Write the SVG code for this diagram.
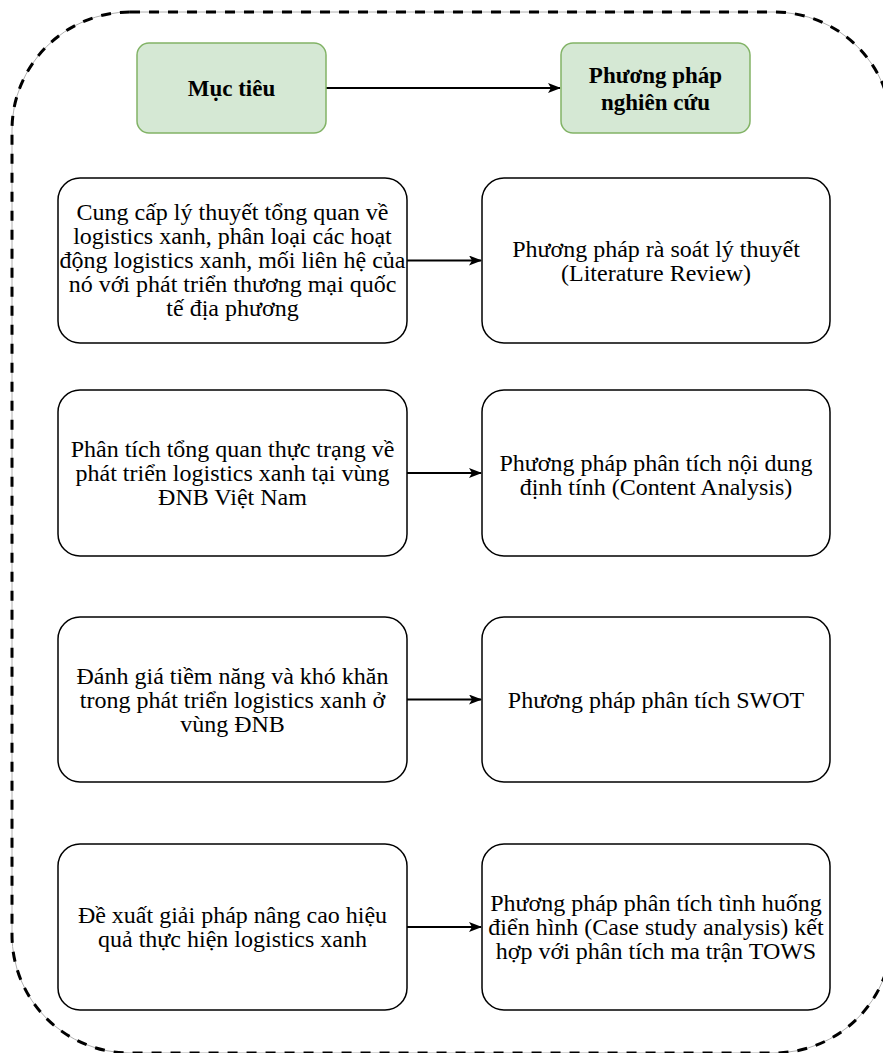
<svg xmlns="http://www.w3.org/2000/svg" width="883" height="1053" viewBox="0 0 883 1053">
<style>
.frame-bg{fill:none;stroke:#b0b0b0;stroke-width:1}
.frame{fill:none;stroke:#000;stroke-width:3;stroke-dasharray:10 9}
.title{fill:#d5e8d4;stroke:#82b366;stroke-width:1.5}
.box{fill:#fff;stroke:#000;stroke-width:1.5}
.tt{font-family:"Liberation Serif",serif;font-size:23px;font-weight:bold;fill:#000;text-anchor:middle;dominant-baseline:central}
.t{font-family:"Liberation Serif",serif;font-size:24px;fill:#000;text-anchor:middle;dominant-baseline:central}
.c{fill:none;stroke:#000;stroke-width:1.8}
</style>
<defs>
<marker id="ah" viewBox="0 0 13 10" refX="12" refY="5" markerWidth="13" markerHeight="10" markerUnits="userSpaceOnUse" orient="auto">
<path d="M0,0 L13,5 L0,10 L3,5 Z" fill="#000"/>
</marker>
</defs>
<rect class="frame-bg" x="12" y="12" width="880" height="1041" rx="118" ry="118"/>
<rect class="frame" x="12" y="12" width="880" height="1041" rx="118" ry="118"/>
<g id="connectors">
<line class="c" x1="326" y1="88" x2="560" y2="88" marker-end="url(#ah)"/>
<line class="c" x1="407" y1="260.5" x2="481" y2="260.5" marker-end="url(#ah)"/>
<line class="c" x1="407" y1="473" x2="481" y2="473" marker-end="url(#ah)"/>
<line class="c" x1="407" y1="699.5" x2="481" y2="699.5" marker-end="url(#ah)"/>
<line class="c" x1="407" y1="927" x2="481" y2="927" marker-end="url(#ah)"/>
</g>
<g id="muc-tieu">
<rect class="title" x="137" y="43" width="189" height="90" rx="12"/>
<text class="tt" x="231.5" y="88">Mục tiêu</text>
</g>
<g id="phuong-phap">
<rect class="title" x="561" y="43" width="189" height="90" rx="12"/>
<text class="tt" x="655.5" y="75">Phương pháp</text>
<text class="tt" x="655.5" y="102">nghiên cứu</text>
</g>
<g id="mt1">
<rect class="box" x="58" y="178" width="349" height="165" rx="22"/>
<text class="t" x="232.5" y="211.5">Cung cấp lý thuyết tổng quan về</text>
<text class="t" x="232.5" y="235.5">logistics xanh, phân loại các hoạt</text>
<text class="t" x="232.5" y="259.5">động logistics xanh, mối liên hệ của</text>
<text class="t" x="232.5" y="283.5">nó với phát triển thương mại quốc</text>
<text class="t" x="232.5" y="307.5">tế địa phương</text>
</g>
<g id="pp1">
<rect class="box" x="482" y="178" width="348" height="165" rx="22"/>
<text class="t" x="656" y="249">Phương pháp rà soát lý thuyết</text>
<text class="t" x="656" y="273">(Literature Review)</text>
</g>
<g id="mt2">
<rect class="box" x="58" y="390" width="349" height="166" rx="22"/>
<text class="t" x="232.5" y="449">Phân tích tổng quan thực trạng về</text>
<text class="t" x="232.5" y="473">phát triển logistics xanh tại vùng</text>
<text class="t" x="232.5" y="497">ĐNB Việt Nam</text>
</g>
<g id="pp2">
<rect class="box" x="482" y="390" width="348" height="166" rx="22"/>
<text class="t" x="656" y="463">Phương pháp phân tích nội dung</text>
<text class="t" x="656" y="487">định tính (Content Analysis)</text>
</g>
<g id="mt3">
<rect class="box" x="58" y="617" width="349" height="165" rx="22"/>
<text class="t" x="232.5" y="676">Đánh giá tiềm năng và khó khăn</text>
<text class="t" x="232.5" y="700">trong phát triển logistics xanh ở</text>
<text class="t" x="232.5" y="724">vùng ĐNB</text>
</g>
<g id="pp3">
<rect class="box" x="482" y="617" width="348" height="165" rx="22"/>
<text class="t" x="656" y="699.5">Phương pháp phân tích SWOT</text>
</g>
<g id="mt4">
<rect class="box" x="58" y="844" width="349" height="166" rx="22"/>
<text class="t" x="232.5" y="915">Đề xuất giải pháp nâng cao hiệu</text>
<text class="t" x="232.5" y="939">quả thực hiện logistics xanh</text>
</g>
<g id="pp4">
<rect class="box" x="482" y="844" width="348" height="166" rx="22"/>
<text class="t" x="656" y="903">Phương pháp phân tích tình huống</text>
<text class="t" x="656" y="927">điển hình (Case study analysis) kết</text>
<text class="t" x="656" y="951">hợp với phân tích ma trận TOWS</text>
</g>
</svg>
